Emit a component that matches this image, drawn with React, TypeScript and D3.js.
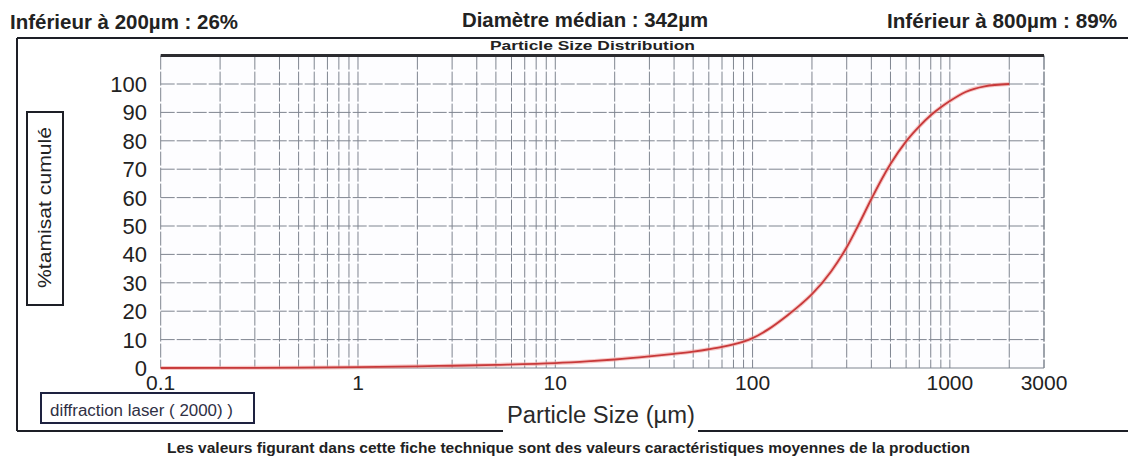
import React from "react";
import * as d3 from "d3";

// Cumulative passing (%) against particle size (µm)
const sizes = [0.1, 0.3, 0.5, 1, 2, 3, 5, 10, 15, 20, 30, 40, 50, 60, 70, 80, 90, 100, 120, 150, 175, 200, 250, 300, 342, 400, 450, 500, 600, 700, 800, 900, 1000, 1200, 1500, 2000];
const passing = [0, 0.05, 0.1, 0.3, 0.6, 0.8, 1.1, 1.7, 2.4, 3.0, 4.1, 5.0, 5.8, 6.6, 7.4, 8.3, 9.3, 10.5, 13.6, 18.5, 22.3, 26, 34, 42.5, 50, 59.5, 66.3, 71.8, 79.8, 85.1, 89, 91.8, 94, 97.2, 99.2, 100];

const yTicks = [0, 10, 20, 30, 40, 50, 60, 70, 80, 90, 100];
const xTickLabels = [0.1, 1, 10, 100, 1000, 3000];
const headerLeft = "Inférieur à 200µm : 26%";
const headerCenter = "Diamètre médian : 342µm";
const headerRight = "Inférieur à 800µm : 89%";
const chartTitle = "Particle Size Distribution";
const yTitle = "%tamisat cumulé";
const xTitle = "Particle Size (µm)";
const methodNote = "diffraction laser ( 2000) )";
const footNote = "Les valeurs figurant dans cette fiche technique sont des valeurs caractéristiques moyennes de la production";

const W = 1128;
const H = 461;
const FONT = "'Liberation Sans', Arial, Helvetica, sans-serif";

export default function App() {
  const x = d3.scaleLog().domain([0.1, 3000]).range([160.7, 1044]);
  const y = d3.scaleLinear().domain([0, 110]).range([368, 55.6]);

  // Minor/major vertical grid lines: 1..9 times each decade, plus the 3000 bound
  const vLines: number[] = [];
  for (let e = -1; e <= 3; e++) {
    for (let m = 1; m <= 9; m++) {
      const v = m * Math.pow(10, e);
      if (v <= 3000) vLines.push(v);
    }
  }
  vLines.push(3000);

  const line = d3
    .line<number>()
    .x((_, i) => x(sizes[i]))
    .y((d) => y(d))
    .curve(d3.curveMonotoneX);
  const path = line(passing) || "";

  const gridColor = "#7f8590";
  const ink = "#222";

  return (
    <svg
      width={W}
      height={H}
      viewBox={`0 0 ${W} ${H}`}
      style={{ position: "absolute", left: 0, top: 0, background: "#fff", fontFamily: FONT }}
    >
      {/* header figures */}
      <text x={10} y={29} fontSize={20} fontWeight="bold" fill={ink} textLength={228} lengthAdjust="spacingAndGlyphs">
        {headerLeft}
      </text>
      <text x={462} y={27} fontSize={20} fontWeight="bold" fill={ink} textLength={246} lengthAdjust="spacingAndGlyphs">
        {headerCenter}
      </text>
      <text x={887} y={28} fontSize={20} fontWeight="bold" fill={ink} textLength={230} lengthAdjust="spacingAndGlyphs">
        {headerRight}
      </text>

      {/* outer frame */}
      <g stroke="#1d1f26" strokeWidth={2} fill="none">
        <line x1={17} y1={38} x2={W} y2={38} />
        <line x1={17} y1={38} x2={17} y2={431} />
        <line x1={17} y1={431} x2={503} y2={431} />
        <line x1={698} y1={431} x2={W} y2={431} />
      </g>

      <text x={490} y={50} fontSize={12.5} fontWeight="bold" fill={ink} textLength={205} lengthAdjust="spacingAndGlyphs">
        {chartTitle}
      </text>

      {/* plot background */}
      <rect x={x(0.1)} y={y(110)} width={x(3000) - x(0.1)} height={y(0) - y(110)} fill="#fdfdff" />

      {/* grid */}
      <g stroke={gridColor} strokeWidth={1} fill="none">
        {yTicks.filter((t) => t > 0).map((t) => (
          <line key={`h${t}`} x1={x(0.1)} x2={x(3000)} y1={y(t)} y2={y(t)} strokeDasharray="14 2" />
        ))}
        {vLines.map((v) => (
          <line key={`v${v}`} x1={x(v)} x2={x(v)} y1={y(110)} y2={y(0)} strokeDasharray="14 2" />
        ))}
      </g>
      <line x1={x(0.1)} x2={x(3000)} y1={y(0)} y2={y(0)} stroke={gridColor} strokeWidth={1} />
      <line x1={x(0.1)} x2={x(3000)} y1={y(110)} y2={y(110)} stroke="#2c2c30" strokeWidth={3} />

      {/* cumulative curve */}
      <path d={path} fill="none" stroke="#f2a3a0" strokeWidth={4} strokeOpacity={0.6} />
      <path d={path} fill="none" stroke="#c8393a" strokeWidth={1.8} />

      {/* y axis labels */}
      {yTicks.map((t) => (
        <text key={`yl${t}`} x={147} y={y(t)} dy="0.36em" fontSize={22} textAnchor="end" fill={ink}>
          {t}
        </text>
      ))}

      {/* x axis labels */}
      {xTickLabels.map((t) => (
        <text key={`xl${t}`} x={x(t)} y={390} fontSize={21} textAnchor="middle" fill={ink}>
          {t}
        </text>
      ))}

      {/* y axis title box */}
      <rect x={27} y={112} width={36} height={193} fill="none" stroke="#1d1f26" strokeWidth={2} />
      <text
        transform={`translate(44, 207.5) rotate(-90)`}
        fontSize={19}
        textAnchor="middle"
        dominantBaseline="central"
        fill={ink}
        textLength={161}
        lengthAdjust="spacingAndGlyphs"
      >
        {yTitle}
      </text>

      {/* method note */}
      <rect x={41} y={393} width={213} height={30} fill="#fff" stroke="#1e2240" strokeWidth={2} />
      <text x={50} y={416} fontSize={16} fill="#2f3044" textLength={183} lengthAdjust="spacingAndGlyphs">
        {methodNote}
      </text>

      {/* x axis title */}
      <text x={507} y={423} fontSize={23} fill="#2a2a2a" textLength={188} lengthAdjust="spacingAndGlyphs">
        {xTitle}
      </text>

      {/* footnote */}
      <text x={167} y={453} fontSize={14} fontWeight="bold" fill={ink} textLength={803} lengthAdjust="spacingAndGlyphs">
        {footNote}
      </text>
    </svg>
  );
}
